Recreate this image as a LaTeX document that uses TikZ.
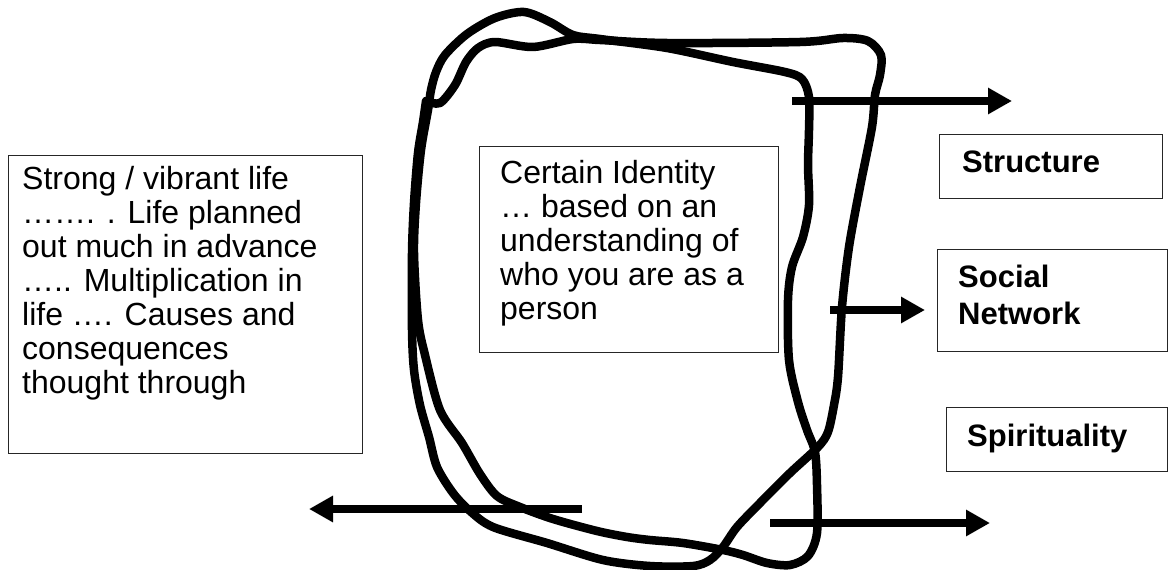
\documentclass[tikz,border=0pt]{standalone}
\usepackage{fontspec}
\setmainfont{Liberation Sans}
\usetikzlibrary{arrows.meta}
\begin{document}
\begin{tikzpicture}[x=1pt,y=-1pt,
  box/.style={draw=black!85,line width=0.9pt,inner sep=0pt,anchor=north west},
  txt/.style={inner sep=0pt,anchor=north west,align=left,font=\fontsize{32}{34}\selectfont},
  btxt/.style={inner sep=0pt,anchor=north west,align=left,font=\fontsize{31}{37}\selectfont\bfseries},
  stroke/.style={line width=8.5pt,line cap=round,line join=round},
  arr/.style={line width=8pt,-{Triangle[length=24pt,width=25pt]}}]
\useasboundingbox[fill=white] (0,0) rectangle (1168,570);

% boxes
\node[box,minimum width=354pt,minimum height=298pt] (lbox) at (8,155) {};
\node[box,minimum width=299pt,minimum height=206pt] (cbox) at (479,146) {};
\node[box,minimum width=223pt,minimum height=64pt] (sbox) at (939,134) {};
\node[box,minimum width=230pt,minimum height=102pt] (nbox) at (937,249) {};
\node[box,minimum width=221pt,minimum height=64pt] (pbox) at (946,407) {};

% texts
\node[txt] (ltext) at (22,166) {Strong / vibrant life\\……. . Life planned\\out much in advance\\….. Multiplication in\\life …. Causes and\\consequences\\thought through};
\node[txt] (ctext) at (500,160) {Certain Identity\\… based on an\\understanding of\\who you are as a\\person};
\node[btxt] (stext) at (962,151) {Structure};
\node[btxt] (ntext) at (958,265) {Social\\Network};
\node[btxt] (ptext) at (967,424) {Spirituality};

% hand-drawn loops
\draw[stroke] plot[smooth cycle] coordinates {(524,12) (550,22) (573,35) (600,39) (667,48) (733,62) (785,72) (802,79) (809,97) (809,130) (808,165) (809,205) (803,237) (792,267) (788,300) (789,360) (798,402) (807,430) (815,452) (817,485) (817,533) (808,556) (790,565) (767,563) (743,555) (723,550) (683,543) (650,540) (627,537) (597,531) (553,519) (520,507) (497,496) (480,474) (462,443) (440,410) (425,355) (418,320) (414,253) (416,203) (421,150) (428,110) (431,90) (436,72) (445,55) (467,34) (495,18)};
\draw[stroke] plot[smooth] coordinates {(426,101) (440,103) (455,85) (466,62) (478,48) (495,42) (533,47) (573,39) (600,40) (667,43) (800,42) (843,38) (868,41) (881,55) (880,75) (875,95) (872,127) (860,187) (849,247) (842,307) (838,377) (834,405) (828,432) (818,447) (790,473) (760,503) (737,527) (723,547) (710,560) (693,566) (650,566) (603,560) (547,543) (493,527) (470,511) (453,493) (437,467) (429,437) (420,405) (414,370) (412,330) (412,253) (414,203) (418,153) (423,122) (426,101)};

% arrows
\coordinate (a1s) at (792,101); \coordinate (a1e) at (1012,101);
\coordinate (a2s) at (830,310); \coordinate (a2e) at (925,310);
\coordinate (a3s) at (770,523); \coordinate (a3e) at (990,523);
\coordinate (a4s) at (582,509); \coordinate (a4e) at (309,509);
\draw[arr] (a1s) -- (a1e);
\draw[arr] (a2s) -- (a2e);
\draw[arr] (a3s) -- (a3e);
\draw[arr] (a4s) -- (a4e);
\end{tikzpicture}
\end{document}
